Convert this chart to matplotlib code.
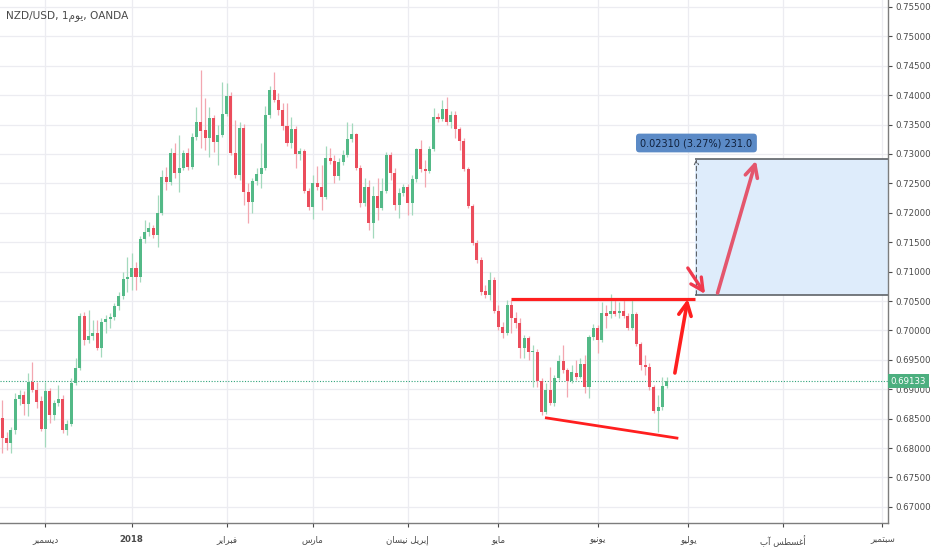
import matplotlib
matplotlib.use("Agg")
import matplotlib.pyplot as plt
from matplotlib.patches import Rectangle
import numpy as np

# ── Daily candles, NZD/USD (OANDA), 17 Nov 2017 – 25 Jun 2018 ──
OPEN = [
    0.68511, 0.68171, 0.68086, 0.68307, 0.68834, 0.68902, 0.68749, 0.69123, 0.68987, 0.68800,
    0.68324, 0.68970, 0.68562, 0.68766, 0.68834, 0.68307, 0.68409, 0.69106, 0.69361, 0.70245,
    0.69837, 0.69905, 0.69956, 0.69701, 0.70143, 0.70194, 0.70228, 0.70415, 0.70585, 0.70874,
    0.70908, 0.71061, 0.70908, 0.71554, 0.71673, 0.71741, 0.71622, 0.71996, 0.72608, 0.72523,
    0.73016, 0.72676, 0.72761, 0.73016, 0.72778, 0.73288, 0.73543, 0.73407, 0.73271, 0.73611,
    0.73203, 0.73322, 0.73679, 0.73985, 0.73016, 0.72642, 0.73441, 0.72353, 0.72183, 0.72540,
    0.72659, 0.72761, 0.73662, 0.74087, 0.73917, 0.73747, 0.73475, 0.73186, 0.73424, 0.72999,
    0.73050, 0.72370, 0.72098, 0.72506, 0.72438, 0.72268, 0.72931, 0.72880, 0.72625, 0.72863,
    0.72982, 0.73254, 0.73339, 0.72761, 0.72166, 0.72438, 0.71826, 0.72285, 0.72081, 0.72370,
    0.72982, 0.72676, 0.72132, 0.72336, 0.72438, 0.72166, 0.72574, 0.73084, 0.72744, 0.72710,
    0.73084, 0.73628, 0.73594, 0.73764, 0.73543, 0.73662, 0.73424, 0.73220, 0.72744, 0.72115,
    0.71486, 0.71197, 0.70670, 0.70602, 0.70857, 0.70330, 0.70058, 0.69956, 0.70432, 0.70211,
    0.70126, 0.69701, 0.69871, 0.69633, 0.69633, 0.69140, 0.68613, 0.68987, 0.68766, 0.69191,
    0.69480, 0.69327, 0.69140, 0.69276, 0.69208, 0.69429, 0.69038, 0.69888, 0.70041, 0.69837,
    0.70296, 0.70279, 0.70330, 0.70296, 0.70330, 0.70245, 0.70041, 0.70279, 0.69769, 0.69412,
    0.69378, 0.69038, 0.68630, 0.68698, 0.69055,
]
CLOSE = [
    0.68171, 0.68086, 0.68307, 0.68834, 0.68902, 0.68749, 0.69123, 0.68987, 0.68783, 0.68324,
    0.68970, 0.68562, 0.68766, 0.68834, 0.68307, 0.68409, 0.69106, 0.69361, 0.70245, 0.69837,
    0.69905, 0.69956, 0.69701, 0.70143, 0.70194, 0.70228, 0.70415, 0.70585, 0.70874, 0.70908,
    0.71061, 0.70908, 0.71554, 0.71673, 0.71741, 0.71622, 0.71996, 0.72608, 0.72523, 0.73016,
    0.72676, 0.72761, 0.73016, 0.72778, 0.73288, 0.73543, 0.73390, 0.73271, 0.73611, 0.73203,
    0.73322, 0.73679, 0.73985, 0.73016, 0.72642, 0.73441, 0.72353, 0.72183, 0.72540, 0.72659,
    0.72761, 0.73662, 0.74087, 0.73917, 0.73747, 0.73475, 0.73186, 0.73424, 0.72999, 0.73050,
    0.72370, 0.72098, 0.72506, 0.72438, 0.72268, 0.72931, 0.72880, 0.72625, 0.72863, 0.72982,
    0.73254, 0.73339, 0.72761, 0.72166, 0.72438, 0.71826, 0.72285, 0.72081, 0.72370, 0.72982,
    0.72676, 0.72132, 0.72336, 0.72438, 0.72166, 0.72574, 0.73084, 0.72744, 0.72710, 0.73084,
    0.73628, 0.73594, 0.73764, 0.73543, 0.73662, 0.73424, 0.73220, 0.72744, 0.72115, 0.71486,
    0.71197, 0.70653, 0.70602, 0.70857, 0.70330, 0.70058, 0.69956, 0.70432, 0.70211, 0.70126,
    0.69701, 0.69871, 0.69633, 0.69650, 0.69140, 0.68613, 0.68987, 0.68766, 0.69191, 0.69480,
    0.69327, 0.69140, 0.69293, 0.69208, 0.69429, 0.69038, 0.69888, 0.70041, 0.69837, 0.70296,
    0.70245, 0.70330, 0.70279, 0.70330, 0.70245, 0.70041, 0.70279, 0.69769, 0.69412, 0.69378,
    0.69038, 0.68630, 0.68698, 0.69055, 0.69133,
]
HIGH = [
    0.68817, 0.68273, 0.68358, 0.68936, 0.68987, 0.68970, 0.69276, 0.69463, 0.69123, 0.68885,
    0.69123, 0.69021, 0.68817, 0.69072, 0.68902, 0.68477, 0.69191, 0.69531, 0.70296, 0.70313,
    0.70347, 0.70177, 0.70177, 0.70211, 0.70262, 0.70296, 0.70466, 0.70653, 0.70993, 0.71248,
    0.71316, 0.71163, 0.71605, 0.71877, 0.71843, 0.71792, 0.72302, 0.72727, 0.72778, 0.73101,
    0.73186, 0.73322, 0.73067, 0.73101, 0.73356, 0.73798, 0.74427, 0.73951, 0.73798, 0.73662,
    0.73492, 0.74223, 0.74206, 0.74053, 0.73580, 0.73543, 0.73509, 0.72506, 0.72591, 0.72761,
    0.73186, 0.73815, 0.74155, 0.74393, 0.74036, 0.73866, 0.73866, 0.73628, 0.73475, 0.73101,
    0.73084, 0.72421, 0.72642, 0.72795, 0.72812, 0.73135, 0.73101, 0.72982, 0.72931, 0.73067,
    0.73543, 0.73526, 0.73356, 0.72812, 0.72591, 0.72557, 0.72455, 0.72591, 0.72591, 0.73033,
    0.73033, 0.72761, 0.72421, 0.72489, 0.72489, 0.72642, 0.73101, 0.73237, 0.72897, 0.73135,
    0.73781, 0.73696, 0.73917, 0.73968, 0.73730, 0.73730, 0.73458, 0.73271, 0.72778, 0.72149,
    0.71537, 0.71248, 0.70772, 0.70993, 0.70908, 0.70432, 0.70143, 0.70517, 0.70517, 0.70313,
    0.70211, 0.69922, 0.69905, 0.69752, 0.69684, 0.69191, 0.69106, 0.69378, 0.69242, 0.69582,
    0.69752, 0.69361, 0.69412, 0.69497, 0.69531, 0.69582, 0.69922, 0.70109, 0.70092, 0.70483,
    0.70432, 0.70619, 0.70551, 0.70483, 0.70551, 0.70296, 0.70551, 0.70313, 0.69803, 0.69582,
    0.69446, 0.69072, 0.68902, 0.69208, 0.69208,
]
LOW = [
    0.67916, 0.67967, 0.67916, 0.68239, 0.68732, 0.68562, 0.68545, 0.68953, 0.68681, 0.68290,
    0.68018, 0.68426, 0.68477, 0.68715, 0.68256, 0.68222, 0.68375, 0.69072, 0.69327, 0.69752,
    0.69786, 0.69837, 0.69667, 0.69548, 0.69956, 0.70041, 0.70177, 0.70347, 0.70534, 0.70653,
    0.70687, 0.70687, 0.70823, 0.71486, 0.71605, 0.71571, 0.71418, 0.71962, 0.72387, 0.72472,
    0.72591, 0.72353, 0.72727, 0.72727, 0.72744, 0.73237, 0.73101, 0.73067, 0.72948, 0.73033,
    0.72812, 0.73288, 0.73645, 0.72982, 0.72591, 0.72557, 0.72132, 0.71826, 0.71996, 0.72472,
    0.72421, 0.72727, 0.73611, 0.73883, 0.73662, 0.73407, 0.73135, 0.73101, 0.72761, 0.72897,
    0.72336, 0.72047, 0.71894, 0.72387, 0.72047, 0.72234, 0.72829, 0.72506, 0.72557, 0.72812,
    0.72948, 0.73203, 0.72727, 0.72098, 0.72115, 0.71707, 0.71571, 0.71877, 0.72047, 0.72336,
    0.72557, 0.72047, 0.71911, 0.72285, 0.71962, 0.71962, 0.72523, 0.72693, 0.72438, 0.72676,
    0.73050, 0.73543, 0.73560, 0.73492, 0.73441, 0.73271, 0.73067, 0.72710, 0.72081, 0.71452,
    0.71146, 0.70602, 0.70551, 0.70517, 0.70296, 0.70007, 0.69871, 0.69922, 0.69956, 0.70041,
    0.69531, 0.69531, 0.69497, 0.69038, 0.69038, 0.68562, 0.68579, 0.68732, 0.68715, 0.69157,
    0.69276, 0.68868, 0.69106, 0.69157, 0.69191, 0.68936, 0.68851, 0.69837, 0.69616, 0.69803,
    0.70041, 0.70211, 0.70245, 0.70211, 0.70211, 0.70007, 0.70007, 0.69735, 0.69327, 0.69242,
    0.68987, 0.68596, 0.68273, 0.68647, 0.69021,
]
LAST_PRICE = 0.69133

# bar index of the first trading day of each month (weekends, 25 Dec, 1 Jan skipped)
MONTH_IDX = [10, 30, 52, 72, 94, 115, 138, 159, 181, 204]
MONTH_LABELS = ["ديسمبر", "2018", "فبراير", "مارس", "إبريل نيسان",
                "مايو", "يونيو", "يوليو", "أغسطس آب", "سبتمبر"]
PRICE_TICKS = [0.670, 0.675, 0.680, 0.685, 0.690, 0.695, 0.700, 0.705, 0.710,
               0.715, 0.720, 0.725, 0.730, 0.735, 0.740, 0.745, 0.750, 0.755]

# drawings on the chart (bar index, price)
RESIST_X = [117.9, 160.5]
RESIST_Y = [0.7053, 0.7053]
SUPPORT_X = [125.8, 156.7]
SUPPORT_Y = [0.68516, 0.68166]
RANGE_X0 = 160.5
RANGE_LOW, RANGE_HIGH = 0.7060, 0.7291
RANGE_TEXT = "0.02310 (3.27%) 231.0"
ARROW_UP = [(155.9, 0.69276), (158.9, 0.70534)]
ARROW_IN = [(158.9, 0.71061), (162.9, 0.70619)]
ARROW_TARGET = [(165.8, 0.70636), (174.7, 0.72885)]

# ── Arabic: contextual forms + visual order (matplotlib has no shaping) ─────────
# letter: (isolated, final, initial, medial); right-joining letters have no initial/medial
FORMS = {
    "ا": ("\uFE8D", "\uFE8E", None, None), "أ": ("\uFE83", "\uFE84", None, None),
    "إ": ("\uFE87", "\uFE88", None, None), "آ": ("\uFE81", "\uFE82", None, None),
    "د": ("\uFEA9", "\uFEAA", None, None), "ر": ("\uFEAD", "\uFEAE", None, None),
    "و": ("\uFEED", "\uFEEE", None, None),
    "ب": ("\uFE8F", "\uFE90", "\uFE91", "\uFE92"), "ت": ("\uFE95", "\uFE96", "\uFE97", "\uFE98"),
    "س": ("\uFEB1", "\uFEB2", "\uFEB3", "\uFEB4"), "ط": ("\uFEC1", "\uFEC2", "\uFEC3", "\uFEC4"),
    "غ": ("\uFECD", "\uFECE", "\uFECF", "\uFED0"), "ف": ("\uFED1", "\uFED2", "\uFED3", "\uFED4"),
    "ل": ("\uFEDD", "\uFEDE", "\uFEDF", "\uFEE0"), "م": ("\uFEE1", "\uFEE2", "\uFEE3", "\uFEE4"),
    "ن": ("\uFEE5", "\uFEE6", "\uFEE7", "\uFEE8"), "ي": ("\uFEF1", "\uFEF2", "\uFEF3", "\uFEF4"),
}


def arabic(s):
    if not any(ch in FORMS for ch in s):
        return s
    out = []
    for i, ch in enumerate(s):
        if ch not in FORMS:
            out.append(ch)
            continue
        iso, fin, ini, med = FORMS[ch]
        prev = i > 0 and s[i - 1] in FORMS and FORMS[s[i - 1]][2] is not None
        nxt = ini is not None and i < len(s) - 1 and s[i + 1] in FORMS
        if prev and nxt:
            out.append(med)
        elif prev:
            out.append(fin)
        elif nxt:
            out.append(ini)
        else:
            out.append(iso)
    return "".join(reversed(out))


# ── Plot ───────────────────────────────────────────────────────────────────────
UP, DOWN = "#53b987", "#eb4d5c"
UP_WICK, DOWN_WICK = "#a3d9bd", "#f3a7b0"
TXT = "#4a4a4a"
GRID = "#ececf1"

o, c = np.array(OPEN), np.array(CLOSE)
hi, lo = np.array(HIGH), np.array(LOW)
x = np.arange(len(o))
rising = c >= o

fig = plt.figure(figsize=(9.32, 5.5), dpi=100)
ax = fig.add_axes([0, 27 / 550, 888 / 932, 523 / 550])
ax.set_xlim(-0.52, 205.3)
ax.set_ylim(0.66726, 0.75617)

ax.set_yticks(PRICE_TICKS)
ax.set_yticklabels([f"{v:.5f}" for v in PRICE_TICKS])
ax.yaxis.tick_right()
ax.set_xticks(MONTH_IDX)
ax.set_xticklabels([arabic(t) for t in MONTH_LABELS])
for lab in ax.get_xticklabels():
    if lab.get_text() == "2018":
        lab.set_fontweight("bold")
ax.tick_params(axis="y", labelsize=6.2, colors=TXT, length=3, pad=2, width=0.8)
ax.tick_params(axis="x", labelsize=6.2, colors=TXT, length=3, pad=6, width=0.8)
ax.grid(True, color=GRID, linewidth=0.9, zorder=0)
ax.set_axisbelow(True)
for side in ("top", "left"):
    ax.spines[side].set_visible(False)
for side in ("right", "bottom"):
    ax.spines[side].set_color("#7d7d7d")
    ax.spines[side].set_linewidth(1.0)

# last-price dotted line
ax.axhline(LAST_PRICE, color="#2fa37a", linewidth=0.8, linestyle=(0, (1, 1.5)), zorder=1)

# price range box
xr = ax.get_xlim()[1]
ax.add_patch(Rectangle((RANGE_X0, RANGE_LOW), xr - RANGE_X0, RANGE_HIGH - RANGE_LOW,
                       facecolor="#deecfb", edgecolor="none", zorder=1))
ax.hlines([RANGE_LOW, RANGE_HIGH], RANGE_X0, xr, color="#5f6368", linewidth=1.2, zorder=2)
xm = RANGE_X0 + 0.4
ax.annotate("", xy=(xm, RANGE_HIGH), xytext=(xm, RANGE_LOW),
            arrowprops=dict(arrowstyle="->,head_length=0.3,head_width=0.15", color="#5f6368",
                            linewidth=0.8, linestyle=(0, (4, 3)), shrinkA=0, shrinkB=0),
            zorder=2)
ax.text(RANGE_X0 + 0.4, 0.73186, RANGE_TEXT, ha="center", va="center", fontsize=7,
        color="#10213d", zorder=6,
        bbox=dict(boxstyle="round,pad=0.45,rounding_size=0.35", facecolor="#5b8ac6",
                  edgecolor="none"))

# candles
ax.vlines(x, lo, hi, color=np.where(rising, UP_WICK, DOWN_WICK), linewidth=0.9, zorder=2)
ax.bar(x, np.abs(c - o), bottom=np.minimum(o, c), width=0.7,
       color=np.where(rising, UP, DOWN), linewidth=0, zorder=3)

# trend lines
ax.plot(RESIST_X, RESIST_Y, color="#ff1f1f", linewidth=2.3, solid_capstyle="butt", zorder=4)
ax.plot(SUPPORT_X, SUPPORT_Y, color="#ff1f1f", linewidth=2.0, solid_capstyle="butt", zorder=4)

# arrows
for (p0, p1), col, lw in ((ARROW_UP, "#ff1f1f", 2.6),
                          (ARROW_IN, "#f03a4e", 2.4),
                          (ARROW_TARGET, "#e4566d", 2.6)):
    ax.annotate("", xy=p1, xytext=p0, zorder=5,
                arrowprops=dict(arrowstyle="->,head_length=0.9,head_width=0.45",
                                color=col, linewidth=lw, shrinkA=0, shrinkB=0))

# last price tag on the axis
ax.text(1.003, LAST_PRICE, f"{LAST_PRICE:.5f}", transform=ax.get_yaxis_transform(),
        ha="left", va="center", fontsize=6.2, color="white", zorder=10, clip_on=False,
        bbox=dict(boxstyle="square,pad=0.3", facecolor="#4caf7f", edgecolor="none"))

# symbol caption
fig.text(6 / 932, 1 - 17 / 550, "NZD/USD, 1" + arabic("يوم") + ", OANDA",
         fontsize=7.6, color=TXT, va="center", ha="left")

fig.savefig("out.png", dpi=100, facecolor="white")
plt.close(fig)
